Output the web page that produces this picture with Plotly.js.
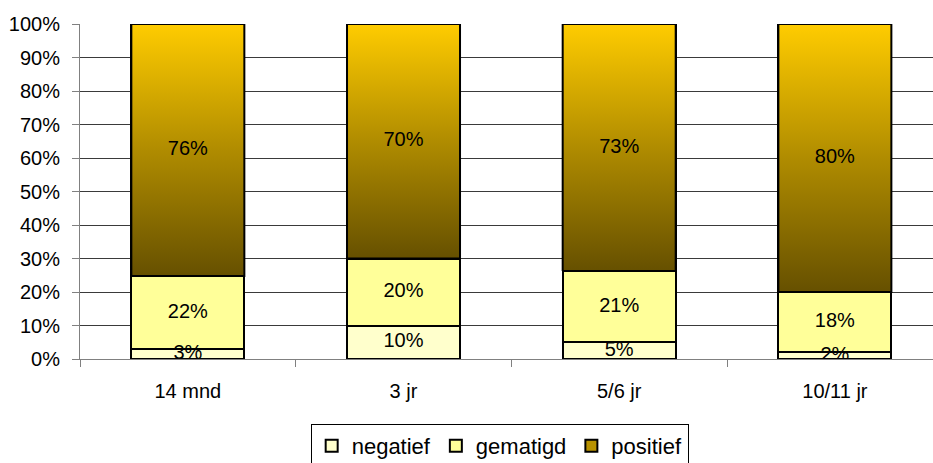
<!DOCTYPE html>
<html>
<head>
<meta charset="utf-8">
<script src="https://cdn.plot.ly/plotly-3.0.1.min.js"></script>
<style>html,body{margin:0;padding:0;background:#fff;}#chart{width:933px;height:463px;}</style>
</head>
<body>
<div id="chart"></div>
<script>
// Data (100% stacked)
const categories = ["14 mnd", "3 jr", "5/6 jr", "10/11 jr"];
const negatief = [3, 10, 5, 2];
const gematigd = [22, 20, 21, 18];
const positief = [76, 70, 73, 80];
const yTicks = [0, 10, 20, 30, 40, 50, 60, 70, 80, 90, 100];

const FONT = "Liberation Sans, Arial, sans-serif";
const BAR_W = 0.524;
const idx = categories.map((c, i) => i);
const totals = idx.map(i => negatief[i] + gematigd[i] + positief[i]);
const nNeg = idx.map(i => negatief[i] / totals[i] * 100);
const nGem = idx.map(i => gematigd[i] / totals[i] * 100);
const nPos = idx.map(i => positief[i] / totals[i] * 100);

const traces = [];
traces.push({
  type: "bar", name: "negatief", x: idx, y: nNeg, width: BAR_W,
  marker: {color: "#FFFFCC", line: {color: "#000", width: 2}},
  hoverinfo: "skip"
});
traces.push({
  type: "bar", name: "gematigd", x: idx, y: nGem, width: BAR_W,
  marker: {color: "#FFFF99", line: {color: "#000", width: 2}},
  hoverinfo: "skip"
});
traces.push({
  type: "bar", name: "positief", x: idx, y: nPos, width: BAR_W,
  marker: {color: "#B89200", line: {color: "#000", width: 2}},
  hoverinfo: "skip"
});
// gradient overlay for the positief segments
idx.forEach(i => {
  const b = nNeg[i] + nGem[i];
  const t = b + nPos[i];
  const l = i - BAR_W / 2, r = i + BAR_W / 2;
  traces.push({
    type: "scatter", mode: "lines", showlegend: false, hoverinfo: "skip",
    x: [l, r, r, l, l], y: [b, b, t, t, b],
    fill: "toself",
    fillgradient: {type: "vertical", colorscale: [[0, "#665000"], [0.5, "#B08C00"], [1, "#FFCC00"]]},
    line: {color: "#000", width: 2}
  });
});
// value labels
const lx = [], ly = [], lt = [];
idx.forEach(i => {
  lx.push(i); ly.push(nNeg[i] / 2); lt.push(negatief[i] + "%");
  lx.push(i); ly.push(nNeg[i] + nGem[i] / 2); lt.push(gematigd[i] + "%");
  lx.push(i); ly.push(nNeg[i] + nGem[i] + nPos[i] / 2); lt.push(positief[i] + "%");
});
traces.push({
  type: "scatter", mode: "text", x: lx, y: ly, text: lt, showlegend: false,
  hoverinfo: "skip", textposition: "middle center",
  textfont: {family: FONT, size: 20, color: "#000"}
});

const boundaries = idx.map(i => i - 0.5).concat([categories.length - 0.5]);

const layout = {
  width: 933, height: 463,
  margin: {l: 80, r: 0, t: 24, b: 104, autoexpand: false},
  paper_bgcolor: "#fff", plot_bgcolor: "#fff",
  barmode: "stack",
  showlegend: true,
  font: {family: FONT, size: 20, color: "#000"},
  xaxis: {
    range: [-0.5, 3.455], tickmode: "array", tickvals: idx, ticktext: categories,
    ticks: "", showgrid: false, zeroline: false,
    showline: true, linecolor: "#808080", linewidth: 1,
    minor: {tickmode: "array", tickvals: boundaries, ticks: "outside", ticklen: 7, tickcolor: "#808080", tickwidth: 1, showgrid: false},
    ticklabelstandoff: 14,
    tickfont: {family: FONT, size: 20, color: "#000"}
  },
  yaxis: {
    range: [0, 100], tickmode: "array", tickvals: yTicks, ticktext: yTicks.map(v => v + "%"),
    ticks: "outside", ticklen: 7, tickcolor: "#808080",
    showgrid: true, gridcolor: "#3a3a3a", gridwidth: 1, zeroline: false,
    showline: true, linecolor: "#808080", linewidth: 1,
    ticklabelstandoff: 8,
    tickfont: {family: FONT, size: 20, color: "#000"}
  },
  legend: {
    orientation: "h", x: 0.492, xanchor: "center", y: -0.194, yanchor: "top",
    bordercolor: "#000", borderwidth: 1, bgcolor: "#fff",
    font: {family: FONT, size: 22, color: "#000"},
    itemwidth: 30, traceorder: "normal"
  }
};

Plotly.newPlot("chart", traces, layout, {displayModeBar: false, staticPlot: true});
</script>
</body>
</html>
